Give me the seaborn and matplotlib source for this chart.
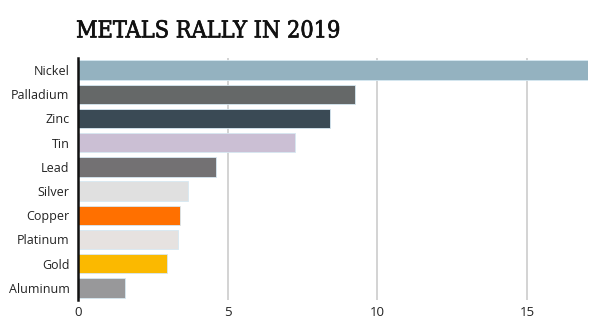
import matplotlib
matplotlib.use("Agg")
import matplotlib.pyplot as plt
import matplotlib.patheffects as pe
import seaborn as sns
import pandas as pd

metals = ["Nickel", "Palladium", "Zinc", "Tin", "Lead", "Silver", "Copper", "Platinum", "Gold", "Aluminum"]
gains = [17.04, 9.25, 8.42, 7.25, 4.61, 3.67, 3.41, 3.34, 2.97, 1.57]
colors = ["#94b2c0", "#656868", "#3a4a55", "#cbbfd4", "#737173", "#e0e0e0", "#ff7000", "#e6e2e0", "#fbb900", "#98989a"]
xticks = [0, 5, 10, 15]

sns.set_theme(style="white")
plt.rcParams['font.family'] = ['Open Sans', 'DejaVu Sans']

df = pd.DataFrame({"metal": metals, "gain": gains})

fig = plt.figure(figsize=(5.99, 3.31), dpi=100)
ax = fig.add_axes([0.130, 0.0937, 0.852, 0.7311])
sns.barplot(data=df, x="gain", y="metal", hue="metal", palette=colors, legend=False,
            width=0.8, ax=ax, edgecolor="#d6e8f2", linewidth=0.6, saturation=1)

ax.set_xlim(0, max(gains))
ax.set_xticks(xticks)
ax.set_xticklabels([str(t) for t in xticks], fontsize=9.5, color="#222222")
ax.tick_params(axis="y", labelsize=9, colors="#222222", length=0, pad=6)
ax.tick_params(axis="x", length=0, pad=4)
ax.set_xlabel("")
ax.set_ylabel("")
ax.xaxis.grid(True, color="#cccccc", linewidth=1.2)
ax.set_axisbelow(True)
for s in ["top", "right", "bottom"]:
    ax.spines[s].set_visible(False)
ax.spines["left"].set_color("#111111")
ax.spines["left"].set_linewidth(1.8)

fig.text(0.127, 0.905, "METALS RALLY IN 2019", fontsize=16.8, family=["DejaVu Serif"],
         fontweight="normal", fontstretch="condensed",
         color="#111111", ha="left", va="center",
         path_effects=[pe.withStroke(linewidth=0.5, foreground="#111111")])

fig.savefig("out.png", dpi=100)
